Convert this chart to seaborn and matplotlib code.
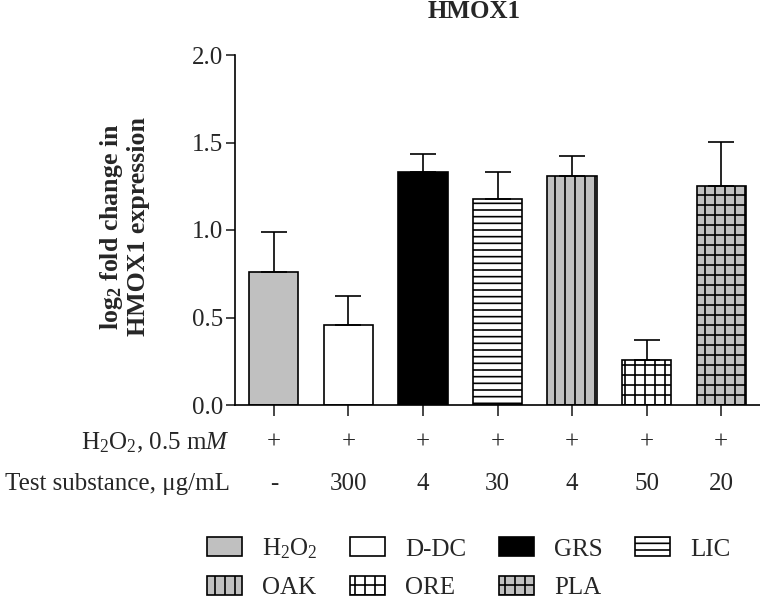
import numpy as np
import pandas as pd
import matplotlib
matplotlib.use('Agg')
import matplotlib.pyplot as plt
import matplotlib.transforms as mtransforms
from matplotlib.patches import Patch
import seaborn as sns

# Values
groups = ['H$_2$O$_2$', 'D-DC', 'GRS', 'LIC', 'OAK', 'ORE', 'PLA']
means = [0.76, 0.46, 1.33, 1.18, 1.31, 0.26, 1.25]
sem = [0.23, 0.165, 0.105, 0.15, 0.11, 0.11, 0.255]
h2o2_row = ['+', '+', '+', '+', '+', '+', '+']
dose_row = ['-', '300', '4', '30', '4', '50', '20']
fills = ['#c0c0c0', 'white', 'black', 'white', '#c0c0c0', 'white', '#c0c0c0']
hatches = ['', '', '', '---', '||', '++', '++']

sns.set_style('ticks')
plt.rcParams['font.family'] = ['Liberation Serif', 'DejaVu Serif']
plt.rcParams['mathtext.fontset'] = 'custom'
plt.rcParams['mathtext.rm'] = 'Liberation Serif'
plt.rcParams['mathtext.it'] = 'Liberation Serif:italic'
plt.rcParams['mathtext.bf'] = 'Liberation Serif:bold'
plt.rcParams['hatch.linewidth'] = 1.0
plt.rcParams['hatch.color'] = 'black'

df = pd.DataFrame({'group': groups, 'mean': means, 'sem': sem})

dpi = 120
fig = plt.figure(figsize=(760 / dpi, 601 / dpi), dpi=dpi)
ax = fig.add_axes([235 / 760, 1 - 405 / 601, 525 / 760, 350 / 601])

sns.barplot(data=df, x='group', y='mean', hue='group', palette=fills,
            width=0.66, edgecolor='black', linewidth=1.0, legend=False,
            errorbar=None, ax=ax, saturation=1)
for bar, h in zip(ax.patches, hatches):
    bar.set_hatch(h)

xs = np.arange(len(groups))
ax.errorbar(xs, df['mean'], yerr=[np.zeros(len(sem)), df['sem']], fmt='none',
            ecolor='black', elinewidth=1.0, capsize=7.8, capthick=1.0, zorder=1)

ax.set_xlim(-0.52, 6.52)
ax.set_ylim(0, 2.0)
ax.set_yticks([0.0, 0.5, 1.0, 1.5, 2.0])
ax.set_yticklabels(['0.0', '0.5', '1.0', '1.5', '2.0'])
ax.set_xticks(xs)
ax.set_xticklabels([])
ax.set_xlabel('')
ax.tick_params(axis='y', length=5.4, width=1.0, labelsize=15, pad=1.8)
ax.tick_params(axis='x', length=6.6, width=1.0)
for s in ['top', 'right']:
    ax.spines[s].set_visible(False)
for s in ['left', 'bottom']:
    ax.spines[s].set_linewidth(1.0)
    ax.spines[s].set_color('black')

ax.set_ylabel('log$_{\\mathbf{2}}$ fold change in\nHMOX1 expression',
              fontsize=15.5, fontweight='bold', linespacing=1.1)
ax.yaxis.set_label_coords(-0.162, 0.51)

fig.text(474 / 760, 1 - 12 / 601, 'HMOX1', fontsize=15, fontweight='bold',
         ha='center', va='center')

# condition rows under the axis
trans = mtransforms.blended_transform_factory(ax.transData, fig.transFigure)
row_y = [1 - 443 / 601, 1 - 484 / 601]
fig.text(230 / 760, row_y[0], 'H$_2$O$_2$, 0.5 m$M$', fontsize=15,
         ha='right', va='center')
fig.text(230 / 760, row_y[1], 'Test substance, \u03bcg/mL', fontsize=15,
         ha='right', va='center')
for x, a, b in zip(xs, h2o2_row, dose_row):
    ax.text(x, row_y[0], a, transform=trans, fontsize=15, ha='center', va='center')
    ax.text(x, row_y[1], b, transform=trans, fontsize=15, ha='center', va='center')

handles = [Patch(facecolor=c, edgecolor='black', hatch=h, linewidth=1.0)
           for c, h in zip(fills, hatches)]
# legend fills column by column, so reorder to read row by row
order = [0, 4, 1, 5, 2, 6, 3]
fig.legend([handles[i] for i in order], [groups[i] for i in order],
           loc='center left', bbox_to_anchor=(207 / 760, 1 - 568 / 601),
           ncol=4, frameon=False, fontsize=15, handlelength=1.4,
           handleheight=0.8, handletextpad=0.8, columnspacing=1.3,
           labelspacing=0.6, borderpad=0, borderaxespad=0)

fig.savefig('out.png', dpi=dpi)
